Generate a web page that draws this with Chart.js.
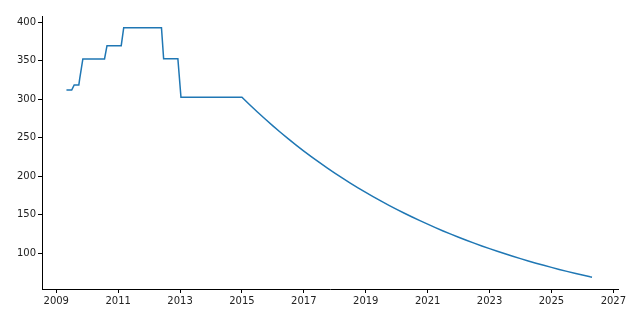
<!DOCTYPE html>
<html>
<head>
<meta charset="utf-8">
<script src="https://cdn.jsdelivr.net/npm/chart.js@4.4.1/dist/chart.umd.min.js"></script>
<style>
html,body{margin:0;padding:0;background:#fff;}
#wrap{width:640px;height:320px;position:relative;}
</style>
</head>
<body>
<div id="wrap"><canvas id="c" width="640" height="320"></canvas></div>
<script>
// Decimal years (x) and values (y)
const years = [
  2009.33, 2009.50, 2009.58, 2009.73, 2009.76, 2009.86,
  2010.56, 2010.64, 2011.10, 2011.18, 2012.40, 2012.47, 2012.93, 2013.03,
  2015.00, 2015.25, 2015.50, 2015.75, 2016.00, 2016.25, 2016.50, 2016.75,
  2017.00, 2017.25, 2017.50, 2017.75, 2018.00, 2018.25, 2018.50, 2018.75,
  2019.00, 2019.25, 2019.50, 2019.75, 2020.00, 2020.25, 2020.50, 2020.75,
  2021.00, 2021.25, 2021.50, 2021.75, 2022.00, 2022.25, 2022.50, 2022.75,
  2023.00, 2023.25, 2023.50, 2023.75, 2024.00, 2024.25, 2024.50, 2024.75,
  2025.00, 2025.25, 2025.50, 2025.75, 2026.00, 2026.25, 2026.31
];
const values = [
  312.0, 312.0, 318.6, 318.6, 327.0, 352.3,
  352.3, 369.6, 369.6, 393.0, 393.0, 352.7, 352.7, 302.6,
  302.6, 292.8, 283.3, 274.2, 265.3, 256.7, 248.4, 240.4,
  232.6, 225.1, 217.8, 210.8, 204.0, 197.4, 191.0, 184.8,
  178.8, 173.0, 167.4, 162.0, 156.8, 151.7, 146.8, 142.1,
  137.5, 133.0, 128.7, 124.6, 120.5, 116.6, 112.9, 109.2,
  105.7, 102.3, 99.0, 95.8, 92.7, 89.7, 86.8, 84.0,
  81.3, 78.6, 76.1, 73.6, 71.3, 69.0, 68.6
];
const xTicks = [2009, 2011, 2013, 2015, 2017, 2019, 2021, 2023, 2025, 2027];
const yTicks = [100, 150, 200, 250, 300, 350, 400];

const points = years.map((x, i) => ({x: x, y: values[i]}));
const font = {family: 'DejaVu Sans', size: 10};

new Chart(document.getElementById('c'), {
  type: 'line',
  data: {
    datasets: [{
      data: points,
      borderColor: '#1f77b4',
      borderWidth: 1.5,
      pointRadius: 0,
      tension: 0,
      fill: false
    }]
  },
  options: {
    responsive: false,
    animation: false,
    events: [],
    plugins: {legend: {display: false}, tooltip: {enabled: false}},
    layout: {padding: {left: 0, right: 22, top: 16, bottom: 0}},
    scales: {
      x: {
        type: 'linear',
        min: 2008.54,
        max: 2027.15,
        afterBuildTicks: s => { s.ticks = xTicks.map(v => ({value: v})); },
        afterFit: s => { s.height = 31; },
        border: {display: true, color: '#000', width: 1},
        grid: {display: true, drawOnChartArea: false, drawTicks: true, tickLength: 4, color: '#000', lineWidth: 1},
        ticks: {font: font, color: '#222', padding: 2, maxRotation: 0, autoSkip: false,
                callback: v => String(v)}
      },
      y: {
        type: 'linear',
        min: 53.2,
        max: 408.2,
        afterBuildTicks: s => { s.ticks = yTicks.map(v => ({value: v})); },
        afterFit: s => { s.width = 42; },
        border: {display: true, color: '#000', width: 1},
        grid: {display: true, drawOnChartArea: false, drawTicks: true, tickLength: 4, color: '#000', lineWidth: 1},
        ticks: {font: font, color: '#222', padding: 2, autoSkip: false}
      }
    }
  }
});
</script>
</body>
</html>
